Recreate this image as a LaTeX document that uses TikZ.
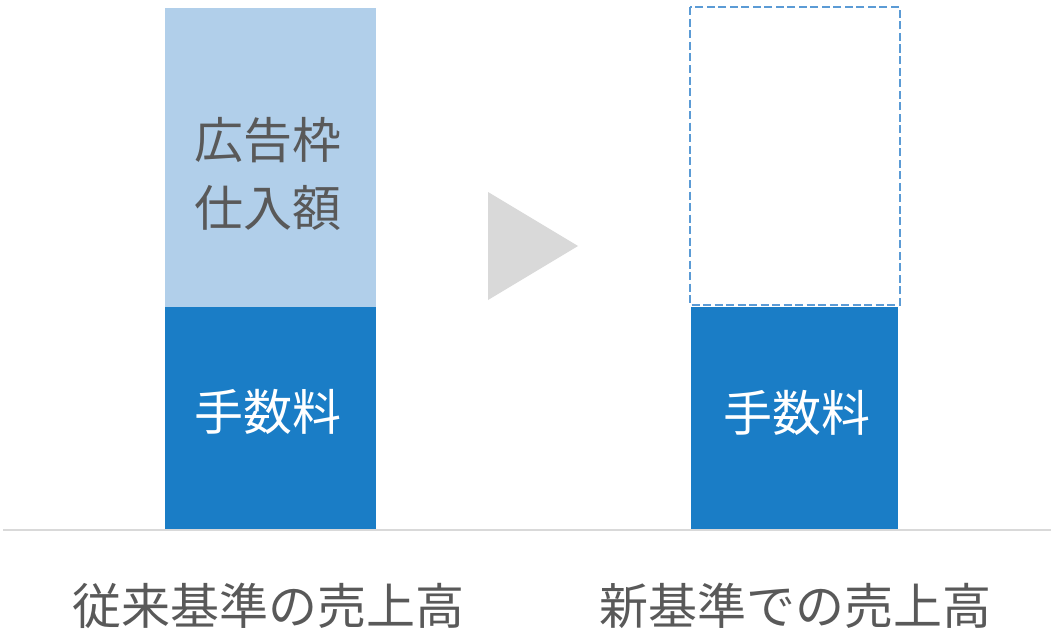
\documentclass[tikz,border=0pt]{standalone}
\usepackage{fontspec}
\setmainfont{Noto Sans CJK JP}
\definecolor{lightbar}{HTML}{B1CFEA}
\definecolor{darkbar}{HTML}{1A7DC6}
\definecolor{dashblue}{HTML}{5B9BD5}
\definecolor{txtgray}{HTML}{595959}
\definecolor{linegray}{HTML}{D9D9D9}
\tikzset{
  barlabel/.style={font=\fontsize{49}{68}\selectfont, align=center, inner sep=0pt},
  bottomlabel/.style={font=\fontsize{49}{58}\selectfont, text=txtgray, inner sep=0pt},
}
\begin{document}
\begin{tikzpicture}[x=1pt,y=-1pt]
\useasboundingbox[fill=white] (0,0) rectangle (1051,634);
% left bar
\fill[lightbar] (165,8) rectangle (376,307);
\fill[darkbar] (165,307) rectangle (376,530);
% right bar
\fill[darkbar] (691,307) rectangle (898,530);
\draw[dashblue, line width=2pt, dash pattern=on 8pt off 3.5pt] (689.5,7.5) rectangle (899.5,304.5);
% baseline
\coordinate (bl) at (3,530);
\coordinate (br) at (1051,530);
\draw[linegray, line width=2pt] (bl) -- (br);
% arrow triangle
\fill[linegray] (488,192) -- (578,246) -- (488,300) -- cycle;
% labels
\node[barlabel, text=txtgray] (ad) at (268,174) {広告枠\\仕入額};
\node[barlabel, text=white] (fee1) at (268,412) {手数料};
\node[barlabel, text=white] (fee2) at (797,413) {手数料};
\node[bottomlabel] (old) at (268,606) {従来基準の売上高};
\node[bottomlabel] (new) at (795,606) {新基準での売上高};
\end{tikzpicture}
\end{document}
